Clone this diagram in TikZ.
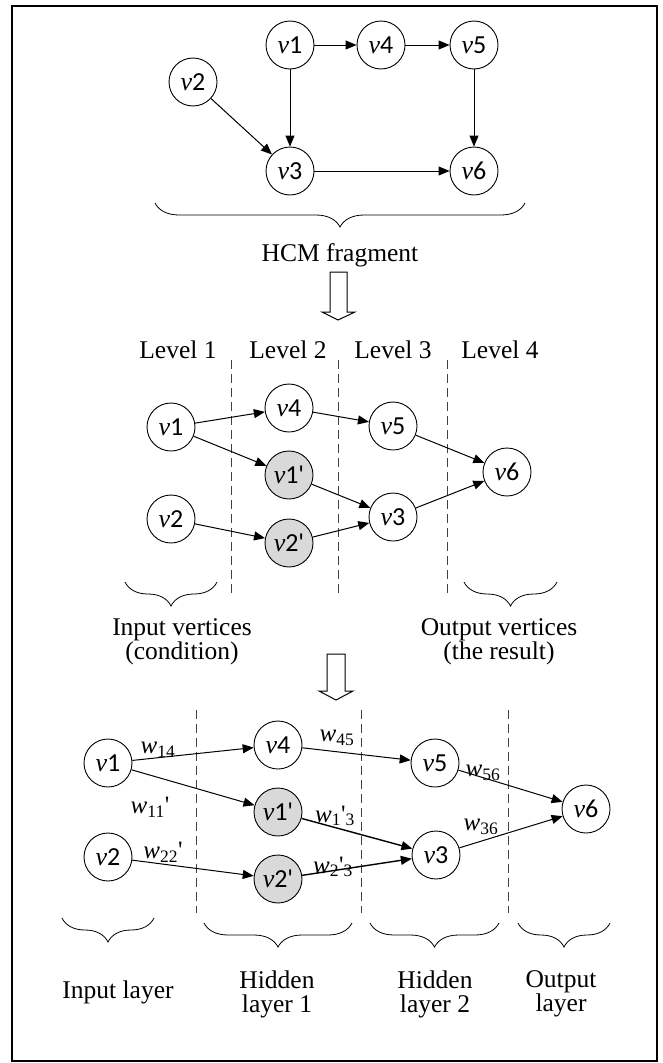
\documentclass[tikz,border=0pt]{standalone}
\usepackage{fontspec}
\setmainfont{Liberation Serif}
\newfontfamily\digitfont{Carlito}
\usetikzlibrary{arrows.meta,decorations.pathreplacing}
\newcommand{\vlab}[1]{\textit{v}{\digitfont #1}}
\newcommand{\vpr}[1]{\textit{v}{\digitfont #1\textquotesingle}}
\newcommand{\wlab}[1]{\textit{w}\textsubscript{#1}}

\begin{document}
\begin{tikzpicture}[x=1pt,y=-1pt,
    vertex/.style={circle,draw,line width=0.9pt,minimum size=48pt,inner sep=0pt,
      font=\fontsize{26}{26}\selectfont},
    copyvertex/.style={vertex,fill=black!15},
    link/.style={-{Triangle[length=11pt,width=9pt]},line width=1pt},
    boldlink/.style={link,line width=1.4pt},
    sep/.style={dash pattern=on 9pt off 5pt,line width=0.9pt,black!75},
    lab/.style={font=\fontsize{25.5}{24}\selectfont,align=center,inner sep=0pt},
    wt/.style={font=\fontsize{25}{25}\selectfont,inner sep=0pt},
    curly/.style={decorate,decoration={brace,mirror,amplitude=24pt},line width=0.8pt},
    hollow/.style={draw,line width=1pt,fill=white}]
  \useasboundingbox (0,0) rectangle (662,1063);
  \draw[line width=1.6pt] (12,6) rectangle (657,1061);

  % HCM fragment
  \node[vertex] (h1) at (290,45) {\vlab{1}};
  \node[vertex] (h4) at (381,45) {\vlab{4}};
  \node[vertex] (h5) at (474,45) {\vlab{5}};
  \node[vertex] (h2) at (193,82) {\vlab{2}};
  \node[vertex] (h3) at (290,171) {\vlab{3}};
  \node[vertex] (h6) at (474,171) {\vlab{6}};
  \draw[link] (h1) -- (h4);
  \draw[link] (h4) -- (h5);
  \draw[link] (h1) -- (h3);
  \draw[link] (h2) -- (h3);
  \draw[link] (h5) -- (h6);
  \draw[link] (h3) -- (h6);
  \draw[curly] (155,203) -- (525,203);
  \node[lab] (hcm) at (340,255) {HCM fragment};
  \draw[hollow] (330,272) -- (347,272) -- (347,312) -- (355,312) -- (338,320)
    -- (322,312) -- (330,312) -- cycle;

  % levels
  \foreach \x/\n in {178/1,288/2,393/3,500/4}
    \node[lab] (lev\n) at (\x,350) {Level \n};
  \foreach \x in {231,338,447}
    \draw[sep] (\x,360) -- (\x,595);
  \node[vertex] (l1) at (171,427) {\vlab{1}};
  \node[vertex] (l4) at (289,408) {\vlab{4}};
  \node[copyvertex] (l1p) at (289,475) {\vpr{1}};
  \node[vertex] (l2) at (171,519) {\vlab{2}};
  \node[copyvertex] (l2p) at (289,543) {\vpr{2}};
  \node[vertex] (l5) at (393,426) {\vlab{5}};
  \node[vertex] (l3) at (393,517) {\vlab{3}};
  \node[vertex] (l6) at (507,472) {\vlab{6}};
  \draw[link] (l1) -- (l4);
  \draw[link] (l1) -- (l1p);
  \draw[link] (l4) -- (l5);
  \draw[link] (l1p) -- (l3);
  \draw[link] (l2) -- (l2p);
  \draw[link] (l2p) -- (l3);
  \draw[link] (l5) -- (l6);
  \draw[link] (l3) -- (l6);
  \draw[curly] (125,582) -- (217,582);
  \draw[curly] (464,582) -- (557,582);
  \node[lab] (invert) at (182,642) {Input vertices\\(condition)};
  \node[lab] (outvert) at (499,642) {Output vertices\\(the result)};
  \draw[hollow] (327,654) -- (345,654) -- (345,691) -- (353,691) -- (336,700)
    -- (319,691) -- (327,691) -- cycle;

  % network
  \foreach \x in {196,361,508}
    \draw[sep] (\x,710) -- (\x,913);
  \node[vertex] (n1) at (108,763) {\vlab{1}};
  \node[vertex] (n4) at (278,745) {\vlab{4}};
  \node[copyvertex] (n1p) at (278,812) {\vpr{1}};
  \node[vertex] (n2) at (108,857) {\vlab{2}};
  \node[copyvertex] (n2p) at (278,879) {\vpr{2}};
  \node[vertex] (n5) at (435,763) {\vlab{5}};
  \node[vertex] (n3) at (436,855) {\vlab{3}};
  \node[vertex] (n6) at (586,809) {\vlab{6}};
  \draw[link] (n1) -- (n4);
  \draw[link] (n1) -- (n1p);
  \draw[link] (n4) -- (n5);
  \draw[boldlink] (n1p) -- (n3);
  \draw[link] (n2) -- (n2p);
  \draw[boldlink] (n2p) -- (n3);
  \draw[link] (n5) -- (n6);
  \draw[link] (n3) -- (n6);
  \node[wt] (w14) at (158,750) {\wlab{14}};
  \node[wt] (w45) at (337,738) {\wlab{45}};
  \node[wt] (w56) at (483,773) {\wlab{56}};
  \node[wt] (w11) at (150,807) {\wlab{11}\textquotesingle};
  \node[wt] (w13) at (335,816) {\wlab{1}\textquotesingle\textsubscript{3}};
  \node[wt] (w22) at (163,852) {\wlab{22}\textquotesingle};
  \node[wt] (w23) at (333,867) {\wlab{2}\textquotesingle\textsubscript{3}};
  \node[wt] (w36) at (481,827) {\wlab{36}};
  \draw[curly] (62,918) -- (154,918);
  \draw[curly] (204,923) -- (352,923);
  \draw[curly] (370,923) -- (499,923);
  \draw[curly] (518,923) -- (610,923);
  \node[lab] (inlayer) at (118,992) {Input layer};
  \node[lab] (hid1) at (277,994) {Hidden\\layer 1};
  \node[lab] (hid2) at (435,994) {Hidden\\layer 2};
  \node[lab] (outlayer) at (561,994) {Output\\layer};
\end{tikzpicture}
\end{document}
